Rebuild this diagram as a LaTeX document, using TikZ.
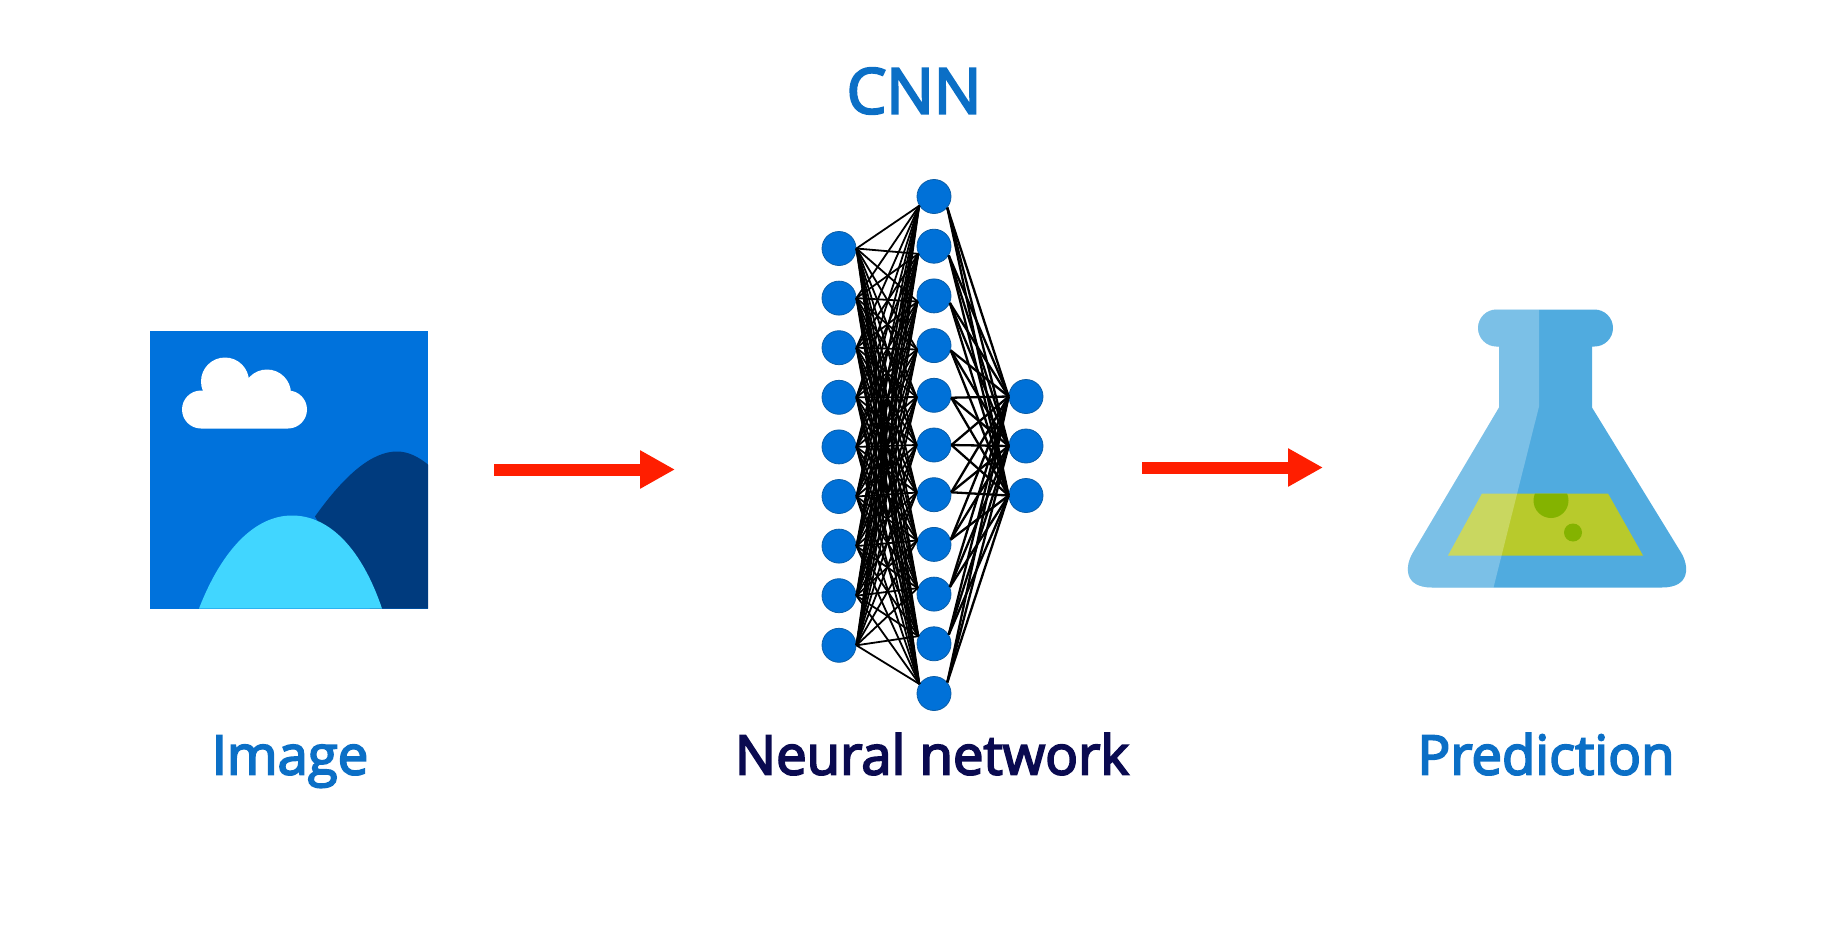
\documentclass[tikz,border=0pt]{standalone}
\usepackage{fontspec}
\setmainfont[FakeBold=3.5]{Open Sans}
\usetikzlibrary{arrows.meta}
\definecolor{netblue}{HTML}{0071D8}
\definecolor{netedge}{HTML}{0B5DA6}
\definecolor{skyblue}{HTML}{0072DC}
\definecolor{hillfar}{HTML}{003B7E}
\definecolor{hillnear}{HTML}{41D6FF}
\definecolor{flaskblue}{HTML}{50ABDF}
\definecolor{liquid}{HTML}{B8CA2C}
\definecolor{bubble}{HTML}{84B300}
\definecolor{labelblue}{HTML}{0B6FC6}
\definecolor{labelnavy}{HTML}{0A0A50}
\definecolor{arrowred}{HTML}{FF1E00}
\def\flaskoutline{(1499,408) -- (1413,553) .. controls (1405,566) and (1403,588) .. (1432,588) -- (1662,588) .. controls (1691,588) and (1689,566) .. (1681,553) -- (1592,408) -- (1592,347) -- (1594.5,347) .. controls (1604.7,347) and (1613,338.7) .. (1613,328.5) .. controls (1613,318.3) and (1604.7,310) .. (1594.5,310) -- (1496.5,310) .. controls (1486.3,310) and (1478,318.3) .. (1478,328.5) .. controls (1478,338.7) and (1486.3,347) .. (1496.5,347) -- (1499,347) -- cycle}
\begin{document}
\begin{tikzpicture}[x=1pt,y=-1pt,
  neuron/.style={circle,draw=netedge,fill=netblue,line width=0.8pt,minimum size=34pt,inner sep=0pt},
  link/.style={black,line width=1.8pt},
  outlink/.style={black,line width=2.3pt},
  flow/.style={arrowred,line width=12pt,-{Triangle[length=35pt,width=36pt]}},
  caption/.style={font=\fontsize{54.5}{60}\selectfont,anchor=base}]
\useasboundingbox (0,0.5) rectangle (1836,942.5);
\fill[skyblue] (150,331) rectangle (428,609);
\fill[hillfar] (315,517) .. controls (345,475) and (372,452) .. (397,452) .. controls (408,452) and (418,457) .. (428,465) -- (428,609) -- (370,609) -- cycle;
\fill[hillnear] (199,609) .. controls (222,550) and (255,516) .. (292,516) .. controls (330,516) and (362,550) .. (382,609) -- cycle;
\fill[white] (225,382) circle (24) (267,394) circle (24);
\fill[white,rounded corners=19pt] (182,391) rectangle (307,429);
\fill[flaskblue] \flaskoutline;
\begin{scope}
\clip (1482,494) -- (1608,494) -- (1643,556) -- (1448,556) -- cycle;
\fill[liquid] (1440,490) rectangle (1650,560);
\fill[bubble] (1551,501) circle (17.5) (1573,533) circle (9);
\end{scope}
\begin{scope}
\clip \flaskoutline;
\fill[white,opacity=0.25] (1400,300) -- (1539,300) -- (1539,407) -- (1493,590) -- (1400,590) -- cycle;
\end{scope}
\foreach \i in {1,...,9}
  \node[neuron] (in\i) at (839,{249+(\i-1)*49.6}) {};
\foreach \j in {1,...,11}
  \node[neuron] (hid\j) at (934,{197+(\j-1)*49.7}) {};
\foreach \k in {1,2,3}
  \node[neuron] (out\k) at (1026,{397+(\k-1)*49.5}) {};
\foreach \j in {1,...,11}{
  \pgfmathsetmacro{\angin}{180+(6-\j)*6.5}
  \pgfmathsetmacro{\angout}{(\j-6)*8}
  \foreach \i in {1,...,9}
    \draw[link] (in\i.east) -- (hid\j.\angin);
  \foreach \k in {1,2,3}
    \draw[outlink] (hid\j.\angout) -- (out\k.west);
}
\coordinate (imgtail) at (494,470);
\coordinate (imghead) at (675,470);
\coordinate (nettail) at (1142,468);
\coordinate (nethead) at (1323,468);
\draw[flow] (imgtail) -- (imghead);
\draw[flow] (nettail) -- (nethead);
\node[caption,text=labelblue,font=\fontsize{63}{66}\selectfont] (cnn) at (914,114) {CNN};
\node[caption,text=labelblue] (image) at (290,775) {Image};
\node[caption,text=labelnavy] (network) at (932,775) {Neural network};
\node[caption,text=labelblue] (prediction) at (1546,775) {Prediction};
\end{tikzpicture}
\end{document}
